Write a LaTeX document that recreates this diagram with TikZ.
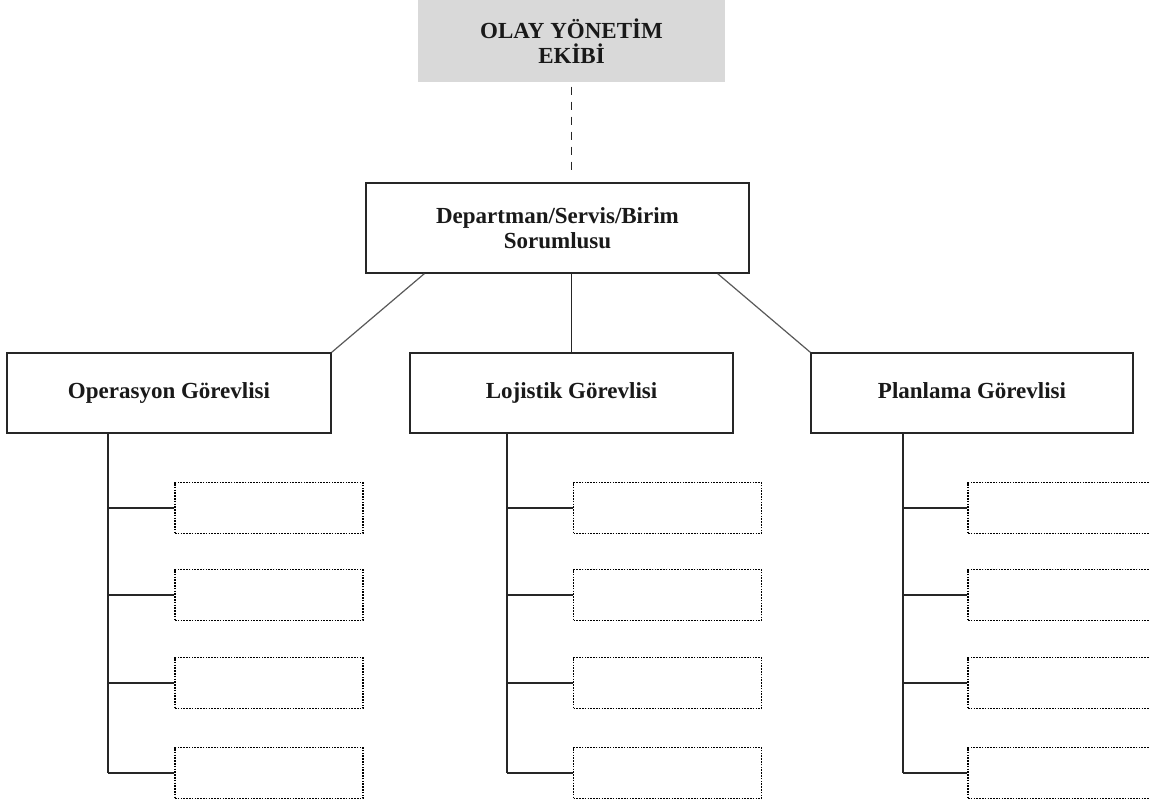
\documentclass[tikz,border=0pt]{standalone}
\usepackage{fontspec}
\setmainfont{Liberation Serif}
\usetikzlibrary{positioning}
\begin{document}
\begin{tikzpicture}[x=1pt,y=-1pt,
  lbl/.style={font=\bfseries\fontsize{23}{25}\selectfont, align=center, text=black!90},
  oneline/.style={text height=16pt, text depth=6pt},
  headbox/.style={fill=black!15, draw=none, minimum width=307pt, minimum height=81pt, inner sep=0pt},
  unitbox/.style={draw=black!85, line width=1.5pt, fill=white, inner sep=0pt},
  taskbox/.style={draw=black, line width=1.8pt, dash pattern=on 1.6pt off 1.2pt,
                  minimum width=188pt, minimum height=51pt, inner sep=0pt},
  conn/.style={draw=black!85, line width=1.6pt},
  slant/.style={draw=black!65, line width=1.2pt},
  link/.style={draw=black!85, line width=1.4pt, dashed, dash pattern=on 8pt off 7pt}]
\useasboundingbox (0,0) rectangle (1150,808);
\clip (0,0) rectangle (1150,808);
\fill[white] (0,0) rectangle (1150,808);

% team header and unit head
\node[headbox, lbl] (team) at (571.5,41) {OLAY YÖNETİM\\EKİBİ};
\node[unitbox, lbl, minimum width=383pt, minimum height=90pt] (dep) at (557.5,228) {Departman/Servis/Birim\\Sorumlusu};

% officers
\node[unitbox, lbl, oneline, minimum width=324pt, minimum height=80pt] (op) at (169,393) {Operasyon Görevlisi};
\node[unitbox, lbl, oneline, minimum width=323pt, minimum height=80pt] (lo) at (571.5,393) {Lojistik Görevlisi};
\node[unitbox, lbl, oneline, minimum width=322pt, minimum height=80pt] (pl) at (972,393) {Planlama Görevlisi};

% dotted task boxes under each officer
\foreach \col/\cx in {op/269, lo/667.5, pl/1062}{
  \foreach \row/\cy in {1/508, 2/595, 3/683, 4/773}{
    \node[taskbox] (\col\row) at (\cx,\cy) {};
  }
}

% trunk lines
\coordinate (opT) at (108,433);
\coordinate (loT) at (507,433);
\coordinate (plT) at (903,433);

% connectors
\draw[link, shorten <=5pt, shorten >=11pt] (team.south) -- (team.south |- dep.north);
\draw[conn] (lo.north) -- (lo.north |- dep.south);
\draw[slant] ([xshift=59pt]dep.south west) -- (op.north east);
\draw[slant] ([xshift=-32pt]dep.south east) -- (pl.north west);

\foreach \col in {op, lo, pl}{
  \draw[conn] (\col T) -- (\col T |- \col4.west);
  \foreach \row in {1,2,3,4}{
    \draw[conn] (\col T |- \col\row.west) -- (\col\row.west);
  }
}
\end{tikzpicture}
\end{document}
